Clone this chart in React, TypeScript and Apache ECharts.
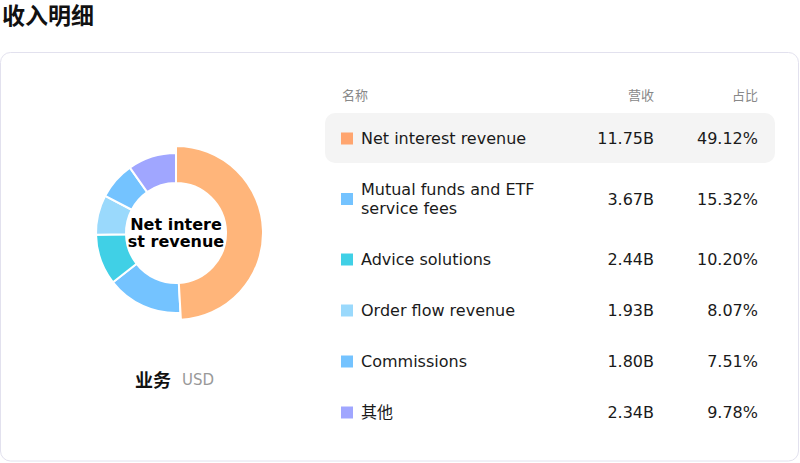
import React, { useEffect, useRef } from "react";
import * as echarts from "echarts";

const names = [
  "Net interest revenue",
  "Mutual funds and ETF service fees",
  "Advice solutions",
  "Order flow revenue",
  "Commissions",
  "其他",
];
const revenue = [11.75, 3.67, 2.44, 1.93, 1.8, 2.34];
const revenueLabels = ["11.75B", "3.67B", "2.44B", "1.93B", "1.80B", "2.34B"];
const shareLabels = ["49.12%", "15.32%", "10.20%", "8.07%", "7.51%", "9.78%"];
const colors = ["#FFA56F", "#74C3FF", "#40D0E6", "#9AD9FC", "#74C3FF", "#A0A6FF"];
const headers = ["名称", "营收", "占比"];

const FONT = "'DejaVu Sans', 'Noto Sans CJK SC', sans-serif";
const NAME_WIDTH = 210;

// count wrapped lines of a row name, so rows with two lines get taller
function lineCount(text: string): number {
  const ctx = document.createElement("canvas").getContext("2d");
  if (!ctx) return 1;
  ctx.font = "16px " + FONT;
  const words = text.split(" ");
  let lines = 1;
  let cur = "";
  for (const w of words) {
    const next = cur ? cur + " " + w : w;
    if (ctx.measureText(next).width > NAME_WIDTH && cur) {
      lines++;
      cur = w;
    } else cur = next;
  }
  return lines;
}

export default function App() {
  const chartRef = useRef<HTMLDivElement>(null);

  useEffect(() => {
    document.body.style.margin = "0";
    if (!chartRef.current) return;
    const chart = echarts.init(chartRef.current, null, { renderer: "svg" });

    // table rows
    const rowEls: any[] = [];
    let top = 113;
    names.forEach((name, i) => {
      const h = lineCount(name) > 1 ? 70 : 51;
      const cy = top + h / 2;
      if (i === 0) {
        rowEls.push({
          type: "rect",
          shape: { x: 325, y: top, width: 450, height: h - 1, r: 10 },
          style: { fill: "#f4f4f4" },
        });
      }
      rowEls.push(
        {
          type: "rect",
          shape: { x: 341, y: cy - 6, width: 12, height: 12 },
          style: { fill: colors[i] },
        },
        {
          type: "text",
          x: 361,
          y: cy,
          style: {
            text: name,
            font: "16px " + FONT,
            fill: "#1a1a1a",
            width: NAME_WIDTH,
            overflow: "break",
            lineHeight: 19,
            verticalAlign: "middle",
          },
        },
        {
          type: "text",
          x: 654,
          y: cy,
          style: {
            text: revenueLabels[i],
            font: "16px " + FONT,
            fill: "#1a1a1a",
            align: "right",
            verticalAlign: "middle",
          },
        },
        {
          type: "text",
          x: 758,
          y: cy,
          style: {
            text: shareLabels[i],
            font: "16px " + FONT,
            fill: "#1a1a1a",
            align: "right",
            verticalAlign: "middle",
          },
        }
      );
      top += h;
    });

    const option = {
      animation: false,
      textStyle: { fontFamily: FONT },
      graphic: [
        {
          type: "text",
          x: 2,
          y: 16,
          style: {
            text: "收入明细",
            font: "bold 23px " + FONT,
            fill: "#111",
            verticalAlign: "middle",
          },
        },
        {
          type: "rect",
          z: -10,
          shape: { x: 0.5, y: 52.5, width: 798, height: 408.5, r: 10 },
          style: { fill: "#fff", stroke: "#e2e1ee", lineWidth: 1 },
        },
        {
          type: "text",
          x: 342,
          y: 95,
          style: { text: headers[0], font: "13px " + FONT, fill: "#888", verticalAlign: "middle" },
        },
        {
          type: "text",
          x: 654,
          y: 95,
          style: { text: headers[1], font: "13px " + FONT, fill: "#888", align: "right", verticalAlign: "middle" },
        },
        {
          type: "text",
          x: 758,
          y: 95,
          style: { text: headers[2], font: "13px " + FONT, fill: "#888", align: "right", verticalAlign: "middle" },
        },
        {
          type: "text",
          x: 135,
          y: 380,
          style: { text: "业务", font: "bold 18px " + FONT, fill: "#111", verticalAlign: "middle" },
        },
        {
          type: "text",
          x: 182,
          y: 380,
          style: { text: "USD", font: "15px " + FONT, fill: "#999", verticalAlign: "middle" },
        },
        // name of the highlighted slice in the hole
        {
          type: "text",
          x: 176,
          y: 233,
          z: 100,
          style: {
            text: names[0],
            font: "bold 16px " + FONT,
            fill: "#000",
            width: 98,
            overflow: "breakAll",
            lineHeight: 17,
            align: "center",
            verticalAlign: "middle",
          },
        },
        ...rowEls,
      ],
      series: [
        {
          type: "pie",
          center: [176, 233],
          radius: [50, 80],
          startAngle: 90,
          clockwise: true,
          itemStyle: { borderColor: "#fff", borderWidth: 2 },
          label: { show: false },
          labelLine: { show: false },
          emphasis: {
            scale: true,
            scaleSize: 7,
            label: { show: false },
          },
          data: names.map((n, i) => ({
            name: n,
            value: revenue[i],
            itemStyle: { color: colors[i] },
          })),
        },
      ],
    };

    chart.setOption(option);
    chart.dispatchAction({ type: "highlight", seriesIndex: 0, dataIndex: 0 });

    return () => {
      chart.dispose();
    };
  }, []);

  return <div ref={chartRef} style={{ width: 800, height: 463 }}></div>;
}
